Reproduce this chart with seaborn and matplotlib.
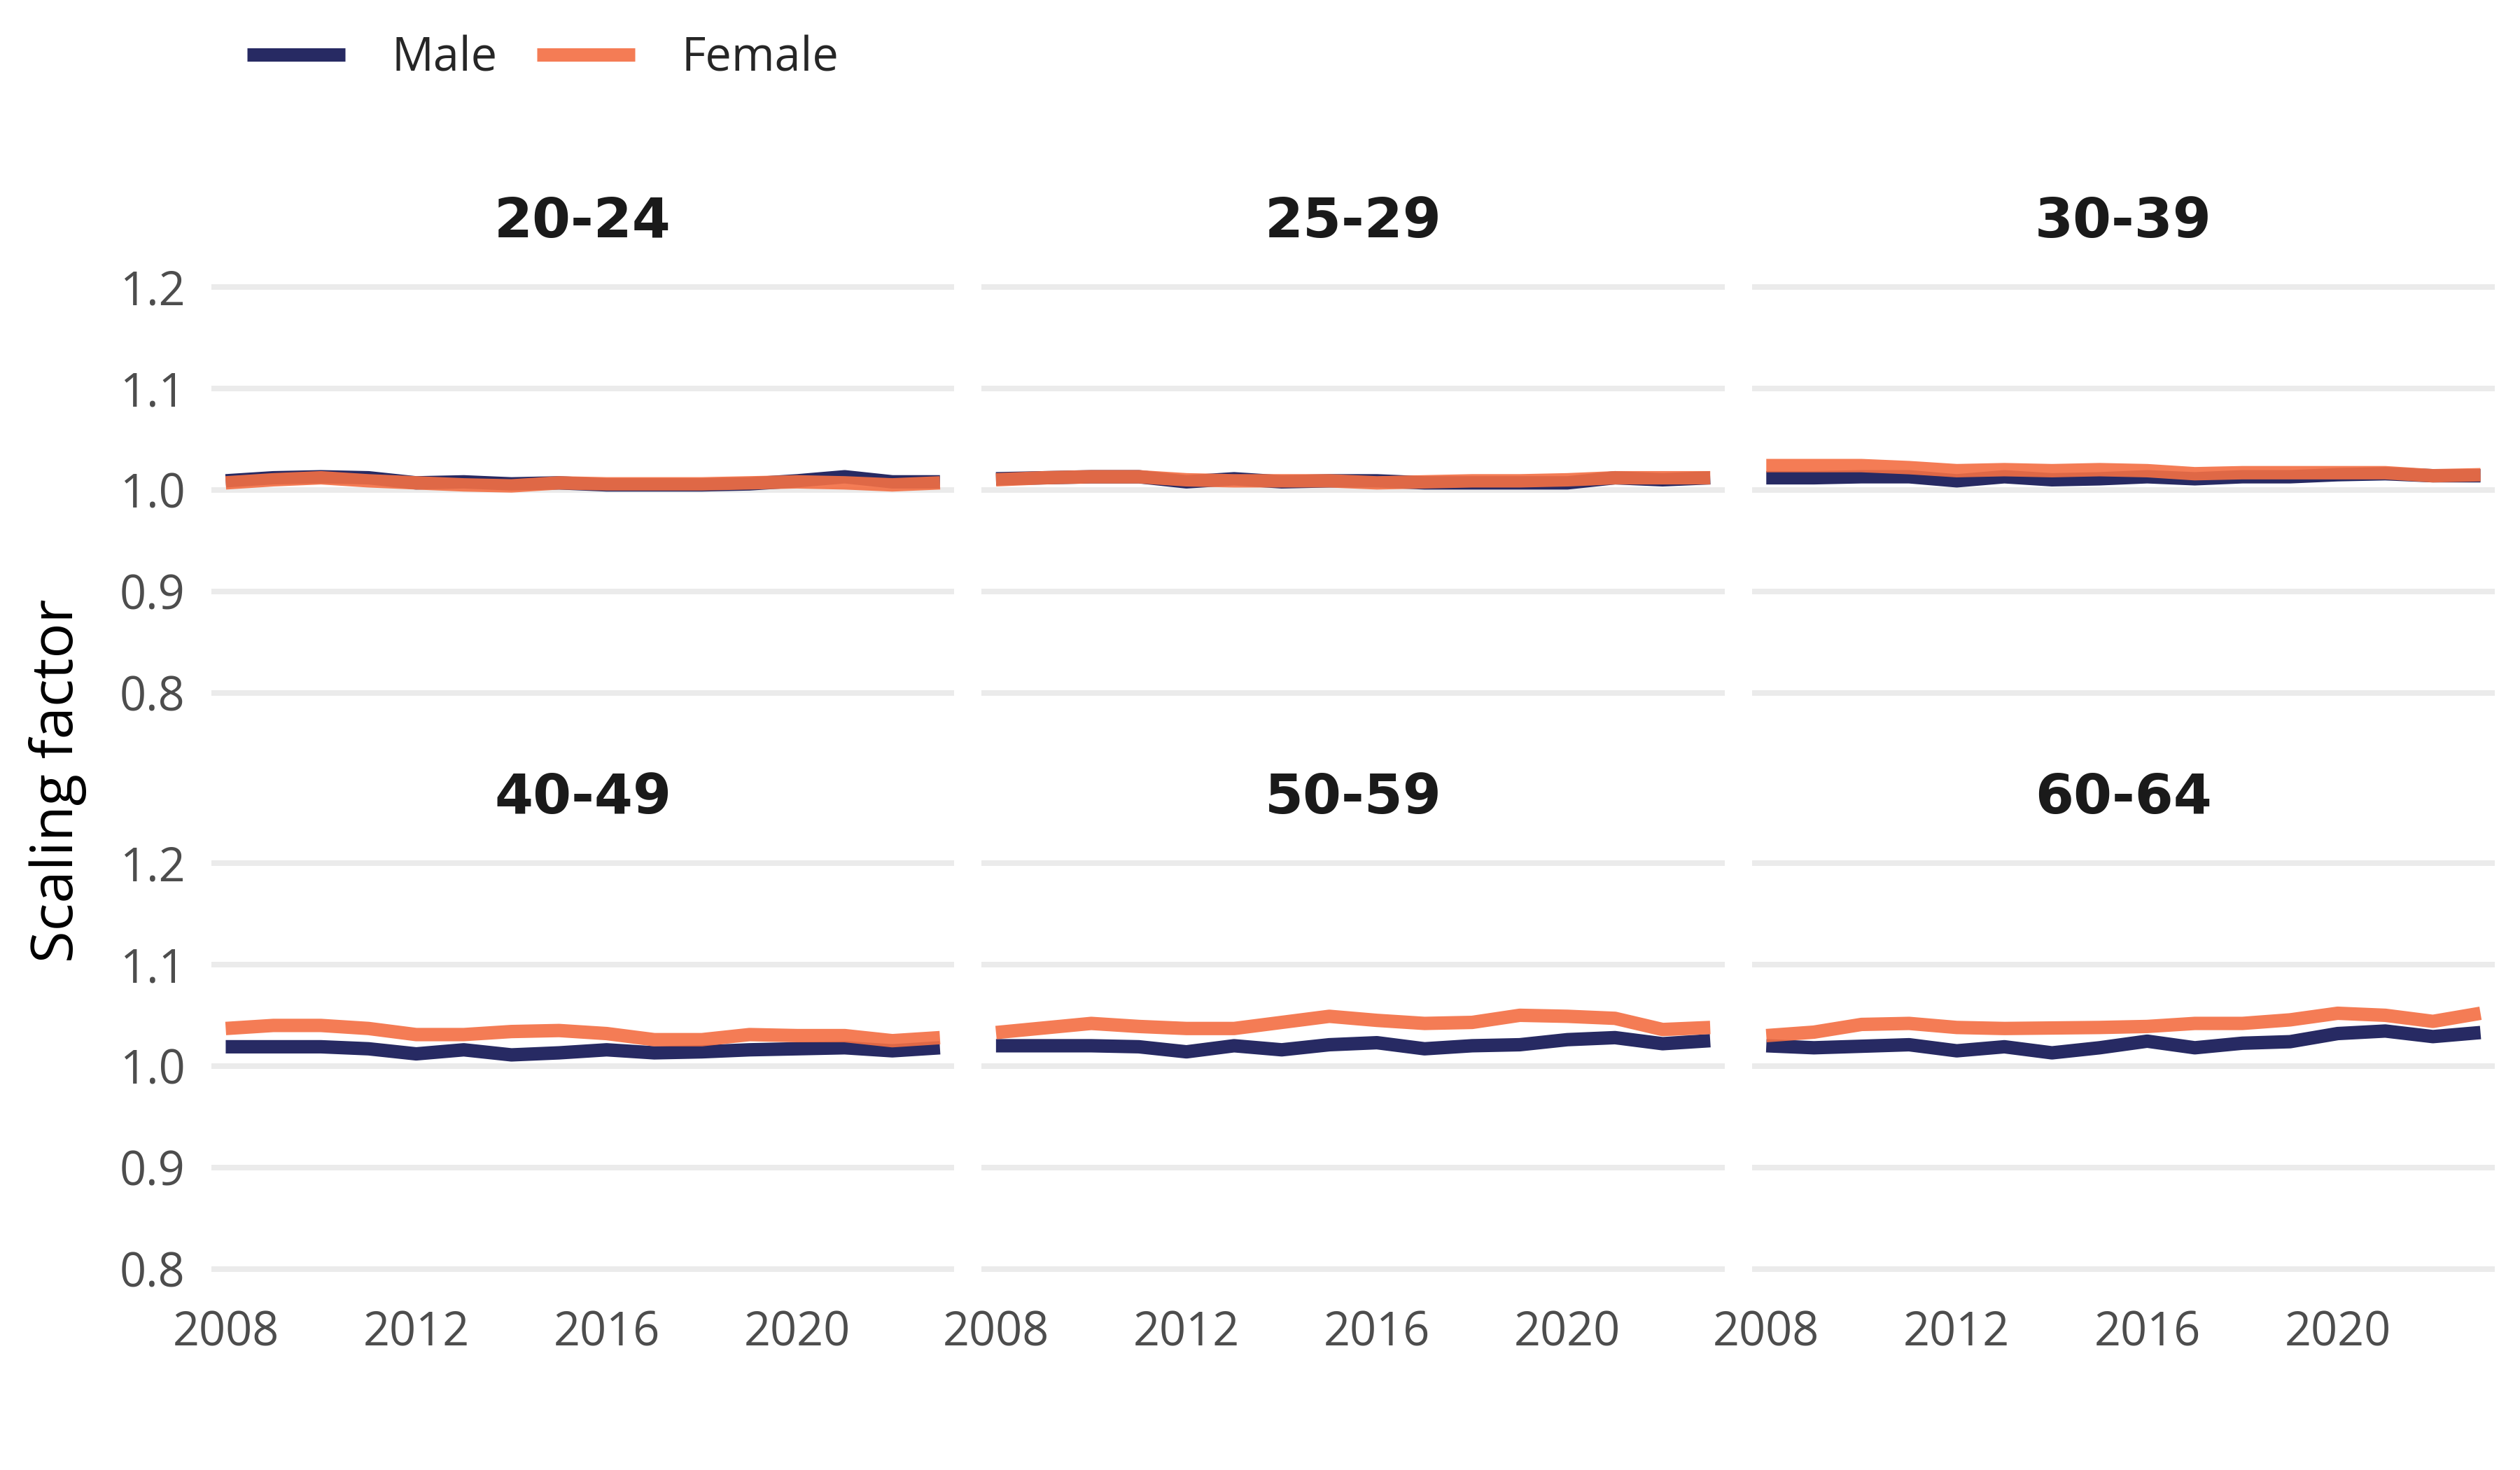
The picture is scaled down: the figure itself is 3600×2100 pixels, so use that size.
import pandas as pd
import matplotlib.pyplot as plt
import seaborn as sns
from matplotlib.lines import Line2D

# Data: scaling factor by year, sex and age group
years = list(range(2008, 2024))
age_groups = ['20-24', '25-29', '30-39', '40-49', '50-59', '60-64']
sexes = ['Male', 'Female']

male_20_24 = [1.009, 1.012, 1.013, 1.012, 1.007, 1.008, 1.006, 1.007, 1.005, 1.005, 1.005, 1.006, 1.009, 1.013, 1.008, 1.008]
female_20_24 = [1.007, 1.010, 1.012, 1.009, 1.007, 1.005, 1.004, 1.007, 1.006, 1.006, 1.006, 1.007, 1.008, 1.007, 1.005, 1.007]
male_25_29 = [1.011, 1.012, 1.013, 1.013, 1.008, 1.011, 1.008, 1.009, 1.009, 1.007, 1.007, 1.007, 1.007, 1.012, 1.010, 1.012]
female_25_29 = [1.010, 1.012, 1.013, 1.013, 1.010, 1.009, 1.009, 1.009, 1.007, 1.008, 1.009, 1.009, 1.010, 1.012, 1.012, 1.012]
male_30_39 = [1.012, 1.012, 1.013, 1.013, 1.009, 1.013, 1.010, 1.011, 1.013, 1.011, 1.013, 1.013, 1.015, 1.016, 1.014, 1.014]
female_30_39 = [1.024, 1.024, 1.024, 1.022, 1.019, 1.020, 1.019, 1.020, 1.019, 1.016, 1.017, 1.017, 1.017, 1.017, 1.014, 1.015]
male_40_49 = [1.019, 1.019, 1.019, 1.017, 1.012, 1.016, 1.011, 1.013, 1.016, 1.013, 1.014, 1.016, 1.017, 1.018, 1.015, 1.018]
female_40_49 = [1.037, 1.040, 1.040, 1.037, 1.031, 1.031, 1.034, 1.035, 1.032, 1.026, 1.026, 1.031, 1.030, 1.030, 1.025, 1.028]
male_50_59 = [1.020, 1.020, 1.020, 1.019, 1.014, 1.020, 1.016, 1.021, 1.023, 1.017, 1.020, 1.021, 1.026, 1.028, 1.022, 1.025]
female_50_59 = [1.033, 1.0375, 1.042, 1.039, 1.037, 1.037, 1.043, 1.049, 1.045, 1.042, 1.043, 1.050, 1.049, 1.047, 1.036, 1.038]
male_60_64 = [1.020, 1.018, 1.0195, 1.021, 1.015, 1.019, 1.013, 1.018, 1.0245, 1.018, 1.0225, 1.024, 1.032, 1.0345, 1.029, 1.033]
female_60_64 = [1.030, 1.0334, 1.041, 1.042, 1.038, 1.037, 1.0375, 1.038, 1.039, 1.042, 1.042, 1.0455, 1.052, 1.050, 1.044, 1.052]

y_ticks = [0.8, 0.9, 1.0, 1.1, 1.2]
y_tick_labels = ['0.8', '0.9', '1.0', '1.1', '1.2']
x_ticks = [2008, 2012, 2016, 2020]

series = {
    ('20-24', 'Male'): male_20_24, ('20-24', 'Female'): female_20_24,
    ('25-29', 'Male'): male_25_29, ('25-29', 'Female'): female_25_29,
    ('30-39', 'Male'): male_30_39, ('30-39', 'Female'): female_30_39,
    ('40-49', 'Male'): male_40_49, ('40-49', 'Female'): female_40_49,
    ('50-59', 'Male'): male_50_59, ('50-59', 'Female'): female_50_59,
    ('60-64', 'Male'): male_60_64, ('60-64', 'Female'): female_60_64,
}

rows = []
for (age, sex), vals in series.items():
    for yr, v in zip(years, vals):
        rows.append({'year': yr, 'age': age, 'sex': sex, 'factor': v})
df = pd.DataFrame(rows)

# Style
sns.set_theme(style='white')
plt.rcParams['font.family'] = ['Open Sans', 'DejaVu Sans']
plt.rcParams['lines.solid_capstyle'] = 'butt'
plt.rcParams['lines.solid_joinstyle'] = 'round'

palette = {'Male': (0.153, 0.165, 0.388, 1.0), 'Female': (0.953, 0.435, 0.267, 0.91)}

g = sns.relplot(data=df, x='year', y='factor', hue='sex', col='age',
                col_wrap=3, col_order=age_groups, hue_order=sexes,
                kind='line', palette=palette, linewidth=4.6,
                errorbar=None, legend=False, height=3, aspect=1.3)

fig = g.figure
fig.set_size_inches(12, 7)
fig.subplots_adjust(left=0.0839, right=0.99, top=0.8186, bottom=0.1229,
                    wspace=0.037, hspace=0.29)

g.set(xlim=(2007.7, 2023.3), ylim=(0.78, 1.22), xticks=x_ticks, yticks=y_ticks)
g.set_titles('{col_name}', fontweight='bold', size=19, color='#1a1a1a', pad=10,
             family=['DejaVu Sans'])
g.set_axis_labels('', '')

for ax in g.axes.flat:
    for s in ax.spines.values():
        s.set_visible(False)
    ax.grid(axis='y', color='#ebebeb', linewidth=1.9)
    ax.grid(axis='x', visible=False)
    ax.set_axisbelow(True)
    ax.tick_params(axis='both', length=0, labelsize=16, labelcolor='#4d4d4d')
    ax.tick_params(axis='x', pad=7)
    ax.tick_params(axis='y', pad=9)
    ax.set_yticklabels(y_tick_labels)

fig.text(0.023, 0.469, 'Scaling factor', rotation=90, ha='center', va='center',
         fontsize=20, color='black')

handles = [Line2D([0], [0], color=palette[s], linewidth=4.6) for s in sexes]
fig.legend(handles, sexes, loc='center left', bbox_to_anchor=(0.098, 0.960),
           ncol=2, frameon=False, fontsize=16, handlelength=2.1,
           handletextpad=1.0, columnspacing=0.85, borderpad=0, borderaxespad=0)

fig.savefig('out.png', dpi=300, facecolor='white')
